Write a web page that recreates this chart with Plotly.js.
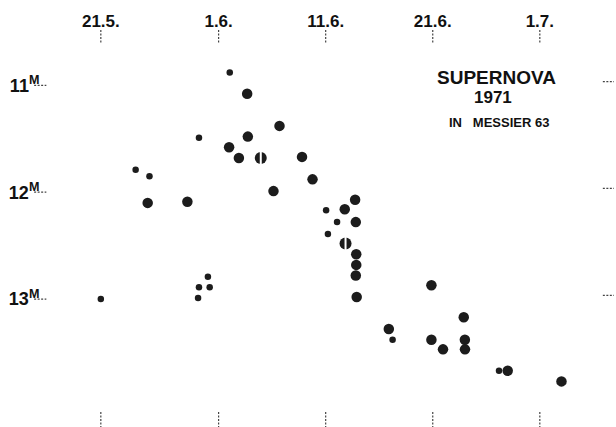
<!DOCTYPE html>
<html>
<head>
<meta charset="utf-8">
<script src="https://cdn.plot.ly/plotly-3.0.1.min.js"></script>
<style>html,body{margin:0;padding:0;background:#fff;}#chart{width:616px;height:427px;}</style>
</head>
<body>
<div id="chart"></div>
<script>
// Tick marks and labels
const xTickVals = ["1971-05-21", "1971-06-01", "1971-06-11", "1971-06-21", "1971-07-01"];
const xTickText = ["21.5.", "1.6.", "11.6.", "21.6.", "1.7."];
const yTickVals = [11, 12, 13];
const yTickText = ["11<sup>M</sup>", "12<sup>M</sup>", "13<sup>M</sup>"];

// Small dots
const smallDates = ["1971-05-21 00:00", "1971-05-24 06:00", "1971-05-25 13:00", "1971-05-31 00:00",
  "1971-05-30 04:00", "1971-05-31 04:00", "1971-05-30 02:00", "1971-05-30 04:00", "1971-06-02 01:00",
  "1971-06-11 01:00", "1971-06-12 01:30", "1971-06-11 05:00", "1971-06-17 06:00", "1971-06-27 04:30"];
const smallMags = [13.00, 11.79, 11.85, 12.79, 12.89, 12.89, 12.99, 11.49, 10.88,
  12.17, 12.28, 12.39, 13.38, 13.67];

// Large dots
const largeDates = ["1971-05-25 09:00", "1971-05-29 02:00", "1971-06-03 16:00", "1971-06-03 17:30",
  "1971-06-01 23:30", "1971-06-02 21:30", "1971-06-06 16:30", "1971-06-06 03:00", "1971-06-08 19:00",
  "1971-06-09 18:30", "1971-06-13 18:00", "1971-06-12 18:45", "1971-06-13 19:30", "1971-06-13 20:30",
  "1971-06-13 20:30", "1971-06-13 19:30", "1971-06-13 21:30", "1971-06-20 21:00", "1971-06-23 21:30",
  "1971-06-16 21:30", "1971-06-20 21:00", "1971-06-24 00:00", "1971-06-21 23:00", "1971-06-24 00:15",
  "1971-06-28 00:00", "1971-07-03 00:30"];
const largeMags = [12.10, 12.09, 11.08, 11.48, 11.58, 11.68, 11.38, 11.99, 11.67,
  11.88, 12.07, 12.16, 12.28, 12.58, 12.68, 12.78, 12.98, 12.87, 13.17,
  13.28, 13.38, 13.38, 13.47, 13.47, 13.67, 13.77];

// Split (halved) dots
const splitDates = ["1971-06-04 22:30", "1971-06-12 20:30"];
const splitMags = [11.68, 12.48];

const ink = "#1c1c1c";
const font = "Liberation Sans, Arial, sans-serif";

const traces = [
  {x: smallDates, y: smallMags, type: "scatter", mode: "markers",
   marker: {size: 6.5, color: ink}, hoverinfo: "x+y"},
  {x: largeDates, y: largeMags, type: "scatter", mode: "markers",
   marker: {size: 10.5, color: ink}, hoverinfo: "x+y"},
  {x: splitDates, y: splitMags, type: "scatter", mode: "markers",
   marker: {size: 12, color: ink}, hoverinfo: "x+y"},
  {x: splitDates, y: splitMags, type: "scatter", mode: "markers",
   marker: {size: 14, symbol: "line-ns", color: "#fff", line: {color: "#fff", width: 2}}, hoverinfo: "skip"}
];

const shapes = [];
const dashStyle = {color: "#444", width: 1.2, dash: "2px,1.5px"};
xTickVals.forEach(v => {
  shapes.push({type: "line", xref: "x", yref: "paper", x0: v, x1: v, y0: 1.021, y1: 1.058, line: dashStyle});
  shapes.push({type: "line", xref: "x", yref: "paper", x0: v, x1: v, y0: -0.017, y1: -0.06, line: dashStyle});
});
yTickVals.forEach(v => {
  shapes.push({type: "line", xref: "paper", yref: "y", x0: -0.045, x1: -0.022, y0: v, y1: v, line: dashStyle});
  shapes.push({type: "line", xref: "paper", yref: "y", x0: 1.028, x1: 1.049, y0: v - 0.035, y1: v - 0.035, line: dashStyle});
});

const layout = {
  width: 616, height: 427,
  margin: {l: 58, r: 28, t: 50, b: 21},
  paper_bgcolor: "#fff", plot_bgcolor: "#fff",
  showlegend: false,
  xaxis: {
    type: "date", side: "top",
    range: ["1971-05-17 00:00", "1971-07-05 12:00"],
    tickvals: xTickVals, ticktext: xTickText,
    ticks: "outside", ticklen: 15, tickcolor: "rgba(0,0,0,0)",
    tickfont: {family: font, size: 17, color: "#111", weight: "bold"},
    showgrid: false, zeroline: false, showline: false
  },
  yaxis: {
    autorange: false, range: [14.0, 10.67],
    tickvals: yTickVals, ticktext: yTickText,
    ticks: "outside", ticklen: 14, tickcolor: "rgba(0,0,0,0)",
    tickfont: {family: font, size: 18, color: "#111", weight: "bold"},
    showgrid: false, zeroline: false, showline: false
  },
  shapes: shapes,
  annotations: [
    {text: "SUPERNOVA", xref: "paper", yref: "paper", x: 0.828, y: 0.923, showarrow: false,
     xanchor: "center", yanchor: "middle", font: {family: font, size: 19, color: "#111", weight: "bold"}},
    {text: "1971", xref: "paper", yref: "paper", x: 0.821, y: 0.867, showarrow: false,
     xanchor: "center", yanchor: "middle", font: {family: font, size: 17, color: "#111", weight: "bold"}},
    {text: "IN&nbsp;&nbsp;&nbsp;MESSIER 63", xref: "paper", yref: "paper", x: 0.833, y: 0.795, showarrow: false,
     xanchor: "center", yanchor: "middle", font: {family: font, size: 13, color: "#111", weight: "bold"}}
  ]
};

Plotly.newPlot("chart", traces, layout, {displayModeBar: false, staticPlot: true});
</script>
</body>
</html>
